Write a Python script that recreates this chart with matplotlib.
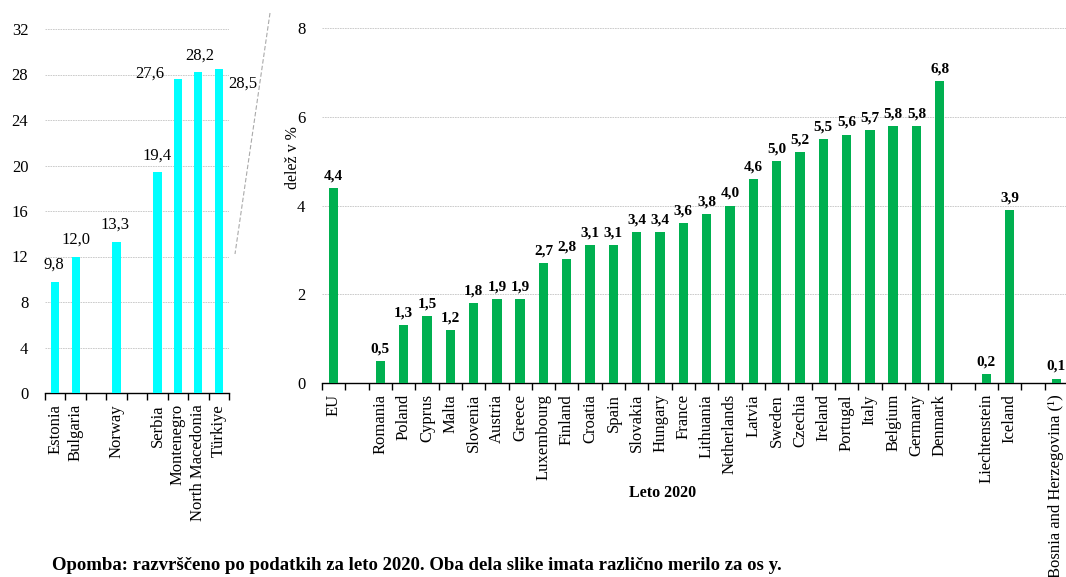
import matplotlib
matplotlib.use("Agg")
import matplotlib.pyplot as plt
from matplotlib.lines import Line2D
import numpy as np

plt.rcParams['font.family'] = ['Liberation Serif', 'DejaVu Serif']

# ---- data ----
left_categories = ["Estonia", "Bulgaria", "", "Norway", "", "Serbia", "Montenegro", "North Macedonia", "Türkiye"]
left_values = [9.8, 12.0, None, 13.3, None, 19.4, 27.6, 28.2, 28.5]
left_yticks = [0, 4, 8, 12, 16, 20, 24, 28, 32]

right_categories = ["EU", "", "Romania", "Poland", "Cyprus", "Malta", "Slovenia", "Austria", "Greece",
                    "Luxembourg", "Finland", "Croatia", "Spain", "Slovakia", "Hungary", "France",
                    "Lithuania", "Netherlands", "Latvia", "Sweden", "Czechia", "Ireland", "Portugal",
                    "Italy", "Belgium", "Germany", "Denmark", "", "Liechtenstein", "Iceland", "",
                    "Bosnia and Herzegovina (¹)"]
right_values = [4.4, None, 0.5, 1.3, 1.5, 1.2, 1.8, 1.9, 1.9, 2.7, 2.8, 3.1, 3.1, 3.4, 3.4, 3.6,
                3.8, 4.0, 4.6, 5.0, 5.2, 5.5, 5.6, 5.7, 5.8, 5.8, 6.8, None, 0.2, 3.9, None, 0.1]
right_yticks = [0, 2, 4, 6, 8]

# label offsets (points) for the left panel
left_label_offsets = [(-1, 12), (0, 12), None, (-1, 12), None, (0, 12), (-20, 4), (1, 12), (17, -11)]

W, H = 1066, 577
fig = plt.figure(figsize=(W / 100, H / 100), dpi=100)

def fmt(v):
    return f"{v:.1f}".replace(".", ",")

def style_axis(ax, n, ymax, yticks):
    ax.set_xlim(-0.5, n - 0.5)
    ax.set_ylim(0, ymax)
    ax.set_yticks(yticks)
    ax.set_yticklabels([str(t) for t in yticks])
    for s in ["left", "right", "top"]:
        ax.spines[s].set_visible(False)
    ax.spines["bottom"].set_color("black")
    ax.spines["bottom"].set_linewidth(1.0)
    ax.tick_params(axis="y", length=0, pad=12, labelsize=12, colors="black")
    ax.set_xticks(np.arange(n))
    ax.tick_params(axis="x", which="major", length=0, pad=8, labelsize=12)
    ax.set_xticks(np.arange(n + 1) - 0.5, minor=True)
    ax.tick_params(axis="x", which="minor", length=5, width=1.0, color="black", direction="out")
    ax.yaxis.grid(True, color="#c4c4c4", linestyle=(0, (2, 1)), linewidth=0.6)
    ax.set_axisbelow(True)

# ---- left panel ----
axL = fig.add_axes([45 / W, 1 - 393 / H, 184 / W, 364 / H])
nL = len(left_categories)
xs = np.arange(nL)
for x, v in zip(xs, left_values):
    if v is not None:
        axL.bar(x, v, width=0.4, color="#00FFFF", zorder=3)
style_axis(axL, nL, 32, left_yticks)
axL.set_xticklabels(left_categories, rotation=90, va="top", ha="center")
for x, v, off in zip(xs, left_values, left_label_offsets):
    if v is not None:
        axL.annotate(fmt(v), (x, v), xytext=off, textcoords="offset points",
                     ha="center", va="center", fontsize=12)

# ---- right panel ----
axR = fig.add_axes([322 / W, 1 - 383 / H, 746 / W, 355 / H])
nR = len(right_categories)
xr = np.arange(nR)
for x, v in zip(xr, right_values):
    if v is not None:
        axR.bar(x, v, width=0.4, color="#00B050", zorder=3)
style_axis(axR, nR, 8, right_yticks)
axR.set_xticklabels(right_categories, rotation=90, va="top", ha="center")
for x, v in zip(xr, right_values):
    if v is not None:
        axR.annotate(fmt(v), (x, v), xytext=(0, 4), textcoords="offset points",
                     ha="center", va="bottom", fontsize=11, fontweight="bold")

fig.text(293 / W, 1 - 158 / H, "delež v %", rotation=90, ha="center", va="center", fontsize=11.5)
fig.text(663 / W, 1 - 493 / H, "Leto 2020", ha="center", va="center", fontsize=11.5, fontweight="bold")
fig.text(52 / W, 1 - 566 / H,
         "Opomba: razvrščeno po podatkih za leto 2020. Oba dela slike imata različno merilo za os y.",
         ha="left", va="center", fontsize=13.5, fontweight="bold")

fig.add_artist(Line2D([270 / W, 235 / W], [1 - 13 / H, 1 - 254 / H], transform=fig.transFigure,
                      color="#aaaaaa", linestyle=(0, (4, 2)), linewidth=0.8))

fig.savefig("out.png", dpi=100, facecolor="white")
